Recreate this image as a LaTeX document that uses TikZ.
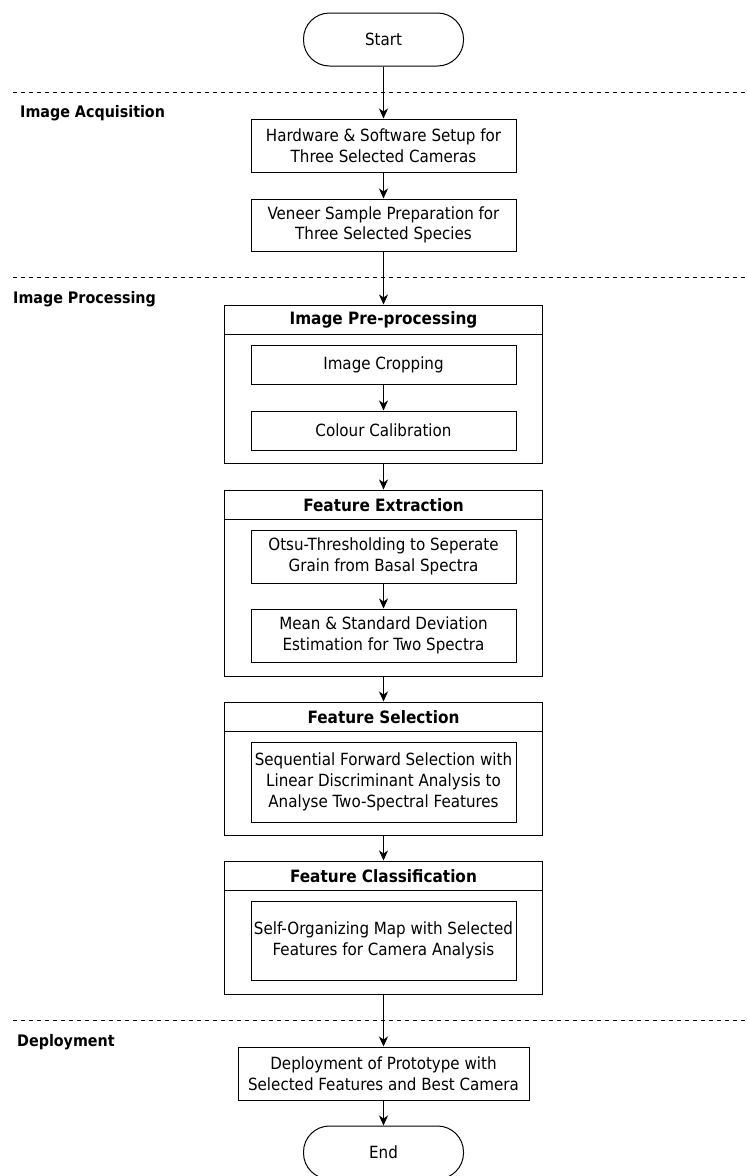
\documentclass[tikz,border=0pt]{standalone}
\usepackage{fontspec}
\setmainfont{DejaVu Sans Condensed}
\usetikzlibrary{arrows.meta}
\begin{document}
\begin{tikzpicture}[x=1pt,y=-1pt,
  every node/.style={font=\fontsize{16.8}{20.7}\selectfont},
  box/.style={draw,line width=1pt,inner sep=0pt,align=center,minimum width=265pt},
  outer/.style={draw,line width=1pt,inner sep=0pt,minimum width=318pt},
  term/.style={draw,line width=1pt,inner sep=0pt,minimum width=160pt,minimum height=53pt,rounded corners=26pt},
  title/.style={font=\fontsize{17}{20.7}\selectfont\bfseries},
  lane/.style={font=\fontsize{15.9}{20.7}\selectfont\bfseries,anchor=west,inner sep=0pt},
  sep/.style={dash pattern=on 4pt off 4pt,line width=1pt},
  arr/.style={-{Stealth[length=10pt,width=9pt,inset=3pt]},line width=1pt}
]
\useasboundingbox (0,0) rectangle (747,1176);
% lane separators
\coordinate (l1a) at (13,92.5); \coordinate (l1b) at (747,92.5);
\coordinate (l2a) at (13,277.5); \coordinate (l2b) at (747,277.5);
\coordinate (l3a) at (13,1020); \coordinate (l3b) at (747,1020);
\draw[sep] (l1a) -- (l1b);
\draw[sep] (l2a) -- (l2b);
\draw[sep] (l3a) -- (l3b);
\node[lane] (lacq) at (20,113) {Image Acquisition};
\node[lane] (lproc) at (13,299) {Image Processing};
\node[lane] (ldep) at (17,1042) {Deployment};
% nodes
\node[term] (start) at (383.5,39.5) {Start};
\node[box,minimum height=53pt] (hw) at (383.5,145.5) {Hardware \& Software Setup for\\Three Selected Cameras};
\node[box,minimum height=52pt] (ven) at (383.5,225) {Veneer Sample Preparation for\\Three Selected Species};
% pre-processing group
\node[outer,minimum height=158pt] (pre) at (383.5,384) {};
\draw[line width=1pt] ([yshift=-30pt]pre.north west) -- ([yshift=-30pt]pre.north east);
\node[title] (pret) at (383.5,320) {Image Pre-processing};
\node[box,minimum height=39pt] (crop) at (383.5,364.5) {Image Cropping};
\node[box,minimum height=39pt] (col) at (383.5,430.5) {Colour Calibration};
% feature extraction group
\node[outer,minimum height=186pt] (fe) at (383.5,583) {};
\draw[line width=1pt] ([yshift=-30pt]fe.north west) -- ([yshift=-30pt]fe.north east);
\node[title] (fet) at (383.5,505) {Feature Extraction};
\node[box,minimum height=53pt] (otsu) at (383.5,556.5) {Otsu-Thresholding to Seperate\\Grain from Basal Spectra};
\node[box,minimum height=53pt] (mean) at (383.5,635.5) {Mean \& Standard Deviation\\Estimation for Two Spectra};
% feature selection group
\node[outer,minimum height=133pt] (fs) at (383.5,768.5) {};
\draw[line width=1pt] ([yshift=-30pt]fs.north west) -- ([yshift=-30pt]fs.north east);
\node[title] (fst) at (383.5,717.5) {Feature Selection};
\node[box,minimum height=80pt] (seq) at (383.5,782) {Sequential Forward Selection with\\Linear Discriminant Analysis to\\Analyse Two-Spectral Features};
% feature classification group
\node[outer,minimum height=133pt] (fc) at (383.5,927.5) {};
\draw[line width=1pt] ([yshift=-30pt]fc.north west) -- ([yshift=-30pt]fc.north east);
\node[title] (fct) at (383.5,876) {Feature Classification};
\node[box,minimum height=79pt] (som) at (383.5,940.5) {Self-Organizing Map with Selected\\Features for Camera Analysis};
% deployment
\node[box,minimum width=291pt,minimum height=53pt] (dep) at (383.5,1073.5) {Deployment of Prototype with\\Selected Features and Best Camera};
\node[term] (end) at (383.5,1152.5) {End};
% arrows
\draw[arr] (start) -- (hw);
\draw[arr] (hw) -- (ven);
\draw[arr] (ven) -- (pre);
\draw[arr] (crop) -- (col);
\draw[arr] (pre) -- (fe);
\draw[arr] (otsu) -- (mean);
\draw[arr] (fe) -- (fs);
\draw[arr] (fs) -- (fc);
\draw[arr] (fc) -- (dep);
\draw[arr] (dep) -- (end);
\end{tikzpicture}
\end{document}
